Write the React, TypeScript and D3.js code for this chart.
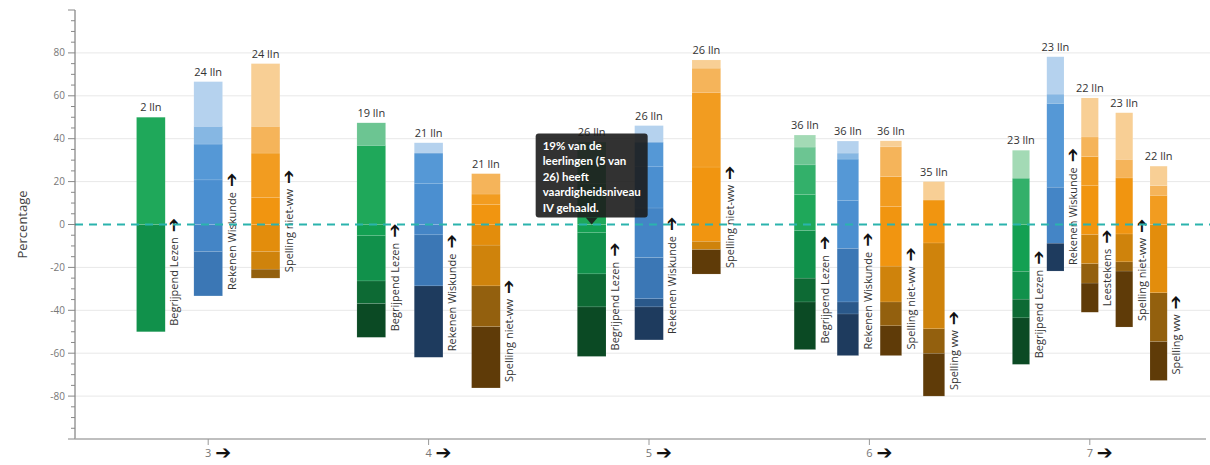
import React from "react";
import * as d3 from "d3";

// ---------- data ----------
const grades = ["3", "4", "5", "6", "7"];

const subjectsGrade3 = ["Begrijpend Lezen", "Rekenen Wiskunde", "Spelling niet-ww"];
const subjectsGrade6 = ["Begrijpend Lezen", "Rekenen Wiskunde", "Spelling niet-ww", "Spelling ww"];
const subjectsGrade7 = ["Begrijpend Lezen", "Rekenen Wiskunde", "Leestekens", "Spelling niet-ww", "Spelling ww"];
const subjectsByGrade = [subjectsGrade3, subjectsGrade3, subjectsGrade3, subjectsGrade6, subjectsGrade7];

const studentsByGrade = [
  [2, 24, 24],
  [19, 21, 21],
  [26, 26, 26],
  [36, 36, 36, 35],
  [23, 23, 22, 23, 22],
];

// percentage of each bar that lies below the zero line
const belowZeroByGrade = [
  [50, 33.3, 25],
  [52.6, 61.9, 76.2],
  [61.5, 53.8, 23.1],
  [58.3, 61.1, 61.1, 80],
  [65.2, 21.7, 40.9, 47.8, 72.7],
];

// share (%) per level, lowest level first (8 levels)
const sharesGrade3 = [
  [0, 0, 50, 0, 50, 0, 0, 0],
  [0, 0, 20.8, 12.5, 20.8, 16.7, 8.3, 20.8],
  [0, 4.2, 8.3, 12.5, 12.5, 20.8, 12.5, 29.2],
];
const sharesGrade4 = [
  [15.8, 10.5, 21.1, 5.3, 36.8, 0, 10.5, 0],
  [33.3, 0, 23.8, 4.8, 19, 14.3, 0, 4.8],
  [28.6, 19, 19, 9.5, 9.5, 4.8, 9.5, 0],
];
const sharesGrade5 = [
  [23.1, 15.4, 19.2, 3.8, 19.2, 11.5, 7.7, 0],
  [15.4, 3.8, 19.2, 23.1, 19.2, 11.5, 0, 7.7],
  [11.5, 0, 3.8, 0, 34.6, 34.6, 11.5, 3.8],
];
const sharesGrade6 = [
  [22.2, 11.1, 22.2, 0, 16.7, 13.9, 8.3, 5.6],
  [19.4, 5.6, 25, 0, 22.2, 19.4, 2.8, 5.6],
  [13.9, 11.1, 16.7, 0, 27.8, 13.9, 13.9, 2.8],
  [20, 11.4, 40, 0, 20, 0, 0, 8.6],
];
const sharesGrade7 = [
  [21.7, 8.7, 13, 21.7, 0, 21.7, 0, 13],
  [13, 0, 0, 26.1, 0, 39.1, 4.3, 17.4],
  [13.6, 9.1, 13.6, 0, 22.7, 13.6, 9.1, 18.2],
  [26.1, 4.3, 13, 0, 26.1, 0, 8.7, 21.7],
  [18.2, 22.7, 0, 31.8, 0, 13.6, 4.5, 9.1],
];
const sharesByGrade = [sharesGrade3, sharesGrade4, sharesGrade5, sharesGrade6, sharesGrade7];

const yMajorTicks = [-80, -60, -40, -20, 0, 20, 40, 60, 80];

const tooltipLines = ["19% van de", "leerlingen (5 van", "26) heeft", "vaardigheidsniveau", "IV gehaald."];
const tooltipGrade = 2;
const tooltipBar = 0;
const tooltipLevel = 4;

// ---------- palettes ----------
const greens = ["#0b4a24", "#0d6a34", "#11914b", "#13a052", "#1fa85a", "#33b06a", "#6cc592", "#a3dab5"];
const blues = ["#1e3b5e", "#2a588a", "#3b77b5", "#4485c6", "#4b8fd0", "#5598d6", "#86b7e3", "#b5d2ee"];
const oranges = ["#5f3b08", "#93600e", "#cf830c", "#e38d0c", "#f19510", "#f29c20", "#f5b45a", "#f8cf95"];
const paletteFor = (subject: string) =>
  subject === "Begrijpend Lezen" ? greens : subject === "Rekenen Wiskunde" ? blues : oranges;

const W = 1210;
const H = 465;
const FONT = "'Open Sans', 'DejaVu Sans', sans-serif";

export default function App() {
  const axisX = 75;
  const y = d3.scaleLinear().domain([-100, 100]).range([439, 10]);
  const x = d3.scaleBand<string>().domain(grades).range([98, 1200]).padding(0);
  const minorTicks = d3.range(-100, 101, 5);

  const bars: any[] = [];
  grades.forEach((g, gi) => {
    const subs = subjectsByGrade[gi];
    const inner = d3
      .scaleBand<number>()
      .domain(subs.map((_, i) => i))
      .range([-86, 86])
      .paddingInner(0.5)
      .paddingOuter(0.25);
    const center = (x(g) as number) + x.bandwidth() / 2;
    subs.forEach((s, si) => {
      const shares = sharesByGrade[gi][si];
      const x0 = center + (inner(si) as number);
      const bw = inner.bandwidth();
      let cum = -belowZeroByGrade[gi][si];
      const bottom = cum;
      const segs: any[] = [];
      shares.forEach((v, li) => {
        if (v > 0) {
          segs.push({ level: li, v0: cum, v1: cum + v });
        }
        cum += v;
      });
      bars.push({ gi, si, subject: s, x0, bw, bottom, top: cum, segs, n: studentsByGrade[gi][si] });
    });
  });

  const ttBar = bars.find((b) => b.gi === tooltipGrade && b.si === tooltipBar);
  const ttSeg = ttBar.segs.find((s: any) => s.level === tooltipLevel);
  const tipX = ttBar.x0 + ttBar.bw / 2;
  const tipY = y(ttSeg.v0);
  const boxW = 112;
  const boxH = 84;
  const boxBottom = tipY - 7;
  const boxTop = boxBottom - boxH;
  const boxLeft = tipX - 56;

  return (
    <svg
      width={W}
      height={H}
      style={{ position: "absolute", left: 0, top: 0, background: "#fff" }}
      fontFamily={FONT}
    >
      {/* grid */}
      {yMajorTicks
        .filter((t) => t !== 0)
        .map((t) => (
          <line key={"g" + t} x1={axisX} x2={W} y1={y(t)} y2={y(t)} stroke="#e8e8e8" strokeWidth={1} />
        ))}

      {/* bars */}
      {bars.map((b, i) => {
        const pal = paletteFor(b.subject);
        return (
          <g key={"b" + i}>
            {b.segs.map((s: any, j: number) => (
              <rect
                key={j}
                x={b.x0}
                width={b.bw}
                y={y(s.v1)}
                height={y(s.v0) - y(s.v1)}
                fill={pal[s.level]}
                stroke="rgba(255,255,255,0.2)"
                strokeWidth={0.5}
              />
            ))}
            <text
              x={b.x0 + b.bw / 2}
              y={y(b.top) - 6}
              textAnchor="middle"
              fontSize={11}
              fill="#333"
            >
              {b.n} lln
            </text>
            <text
              transform={`translate(${b.x0 + b.bw + 13},${y(b.bottom) - 6}) rotate(-90)`}
              fontSize={11}
              fill="#333"
            >
              {b.subject}
              <tspan dx={5} dy={1} fontFamily="'DejaVu Sans', sans-serif" fontWeight="bold" fontSize={17} fill="#111">
                ➔
              </tspan>
            </text>
          </g>
        );
      })}

      {/* zero line */}
      <line
        x1={axisX}
        x2={W}
        y1={y(0)}
        y2={y(0)}
        stroke="#2bb3ad"
        strokeWidth={2}
        strokeDasharray="8,6"
      />

      {/* y axis */}
      <line x1={axisX} x2={axisX} y1={y(100)} y2={y(-100)} stroke="#666" strokeWidth={1} />
      {minorTicks.map((t) => (
        <line
          key={"m" + t}
          x1={axisX - (t % 20 === 0 ? 7 : 4)}
          x2={axisX}
          y1={y(t)}
          y2={y(t)}
          stroke="#888"
          strokeWidth={1}
        />
      ))}
      {yMajorTicks.map((t) => (
        <text key={"yl" + t} x={axisX - 10} y={y(t) + 3.5} textAnchor="end" fontSize={10} fill="#777">
          {t}
        </text>
      ))}
      <text
        transform={`translate(27,${y(0)}) rotate(-90)`}
        textAnchor="middle"
        fontSize={13}
        fill="#444"
      >
        Percentage
      </text>

      {/* x axis */}
      <line x1={axisX} x2={W - 4} y1={439} y2={439} stroke="#aaa" strokeWidth={1.5} />
      {grades.map((g) => {
        const cx = (x(g) as number) + x.bandwidth() / 2;
        return (
          <g key={"x" + g}>
            <line x1={cx} x2={cx} y1={439} y2={445} stroke="#999" />
            <text x={cx} y={457} textAnchor="middle" fontSize={11} fill="#777">
              {g}
            </text>
            <text x={cx + 7} y={459} fontSize={19} fontWeight="bold" fill="#111" fontFamily="'DejaVu Sans', sans-serif">
              ➔
            </text>
          </g>
        );
      })}

      {/* tooltip */}
      <g>
        <rect x={boxLeft} y={boxTop} width={boxW} height={boxH} rx={3} fill="#1c1c1c" fillOpacity={0.9} />
        <path
          d={`M${tipX - 6},${boxBottom} L${tipX + 6},${boxBottom} L${tipX},${tipY} Z`}
          fill="#1c1c1c"
          fillOpacity={0.9}
        />
        {tooltipLines.map((l, i) => (
          <text
            key={"tt" + i}
            x={boxLeft + 7}
            y={boxTop + 16 + i * 15.5}
            fontSize={11.5}
            fontWeight="bold"
            fill="#fff"
            fontFamily="Lato, 'Open Sans', sans-serif"
          >
            {l}
          </text>
        ))}
      </g>
    </svg>
  );
}
